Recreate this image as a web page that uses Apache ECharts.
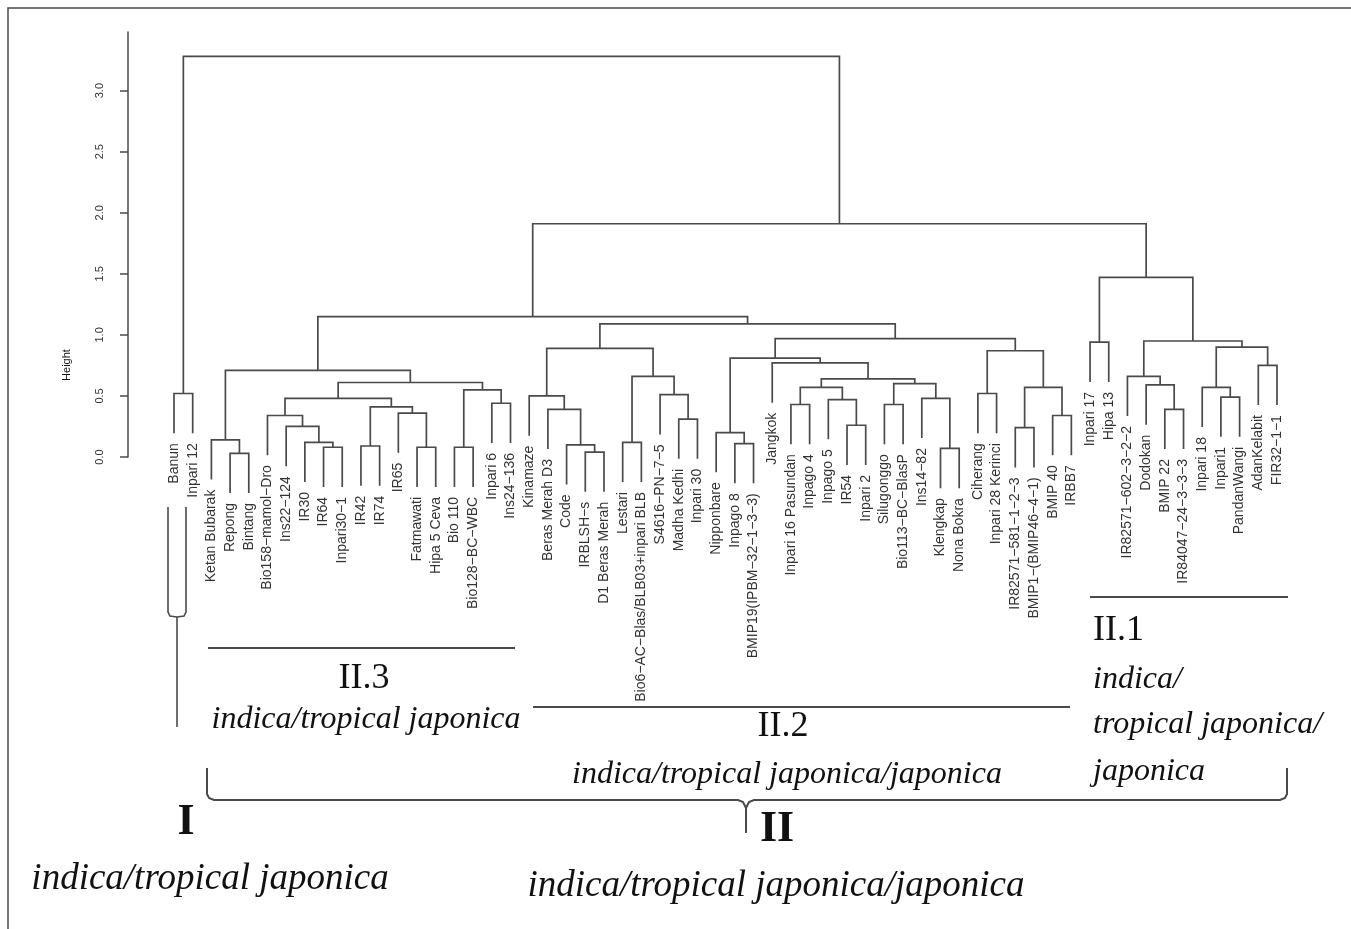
<!DOCTYPE html>
<html><head><meta charset="utf-8">
<script src="https://cdn.jsdelivr.net/npm/echarts@6/dist/echarts.min.js"></script>
<style>html,body{margin:0;padding:0;background:#fff}#c{width:1351px;height:929px}</style>
</head><body><div id="c"></div>
<script>
// Leaf labels in dendrogram order
const leaves = [
  'Banun','Inpari 12','Ketan Bubarak','Repong','Bintang','Bio158\u2212mamol\u2212Dro','Ins22\u2212124','IR30','IR64','Inpari30\u22121',
  'IR42','IR74','IR65','Fatmawati','Hipa 5 Ceva','Bio 110','Bio128\u2212BC\u2212WBC','Inpari 6','Ins24\u2212136','Kinamaze',
  'Beras Merah D3','Code','IRBLSH\u2212s','D1 Beras Merah','Lestari','Bio6\u2212AC\u2212Blas/BLB03+inpari BLB','S4616\u2212PN\u22127\u22125','Madha Kedhi','Inpari 30','Nipponbare',
  'Inpago 8','BMIP19(IPBM\u221232\u22121\u22123\u22123)','Jangkok','Inpari 16 Pasundan','Inpago 4','Inpago 5','IR54','Inpari 2','Silugonggo','Bio113\u2212BC\u2212BlasP',
  'Ins14\u221282','Klengkap','Nona Bokra','Ciherang','Inpari 28 Kerinci','IR82571\u2212581\u22121\u22122\u22123','BMIP1\u2212(BMIP46\u22124\u22121)','BMIP 40','IRBB7','Inpari 17',
  'Hipa 13','IR82571\u2212602\u22123\u22122\u22122','Dodokan','BMIP 22','IR84047\u221224\u22123\u22123\u22123','Inpari 18','Inpari1','PandanWangi','AdanKelabit','FIR32\u22121\u22121'
];
// hclust-style merge pairs: negative = leaf number, positive = earlier merge number
const merges = [
  [-1,-2],[-4,-5],[-3,2],[-9,-10],[-8,4],[-7,5],[-6,6],[-11,-12],[-14,-15],[-13,9],
  [8,10],[7,11],[-16,-17],[-18,-19],[13,14],[12,15],[3,16],[-23,-24],[-22,18],[-21,19],
  [-20,20],[-25,-26],[-28,-29],[-27,23],[22,24],[21,25],[-31,-32],[-30,27],[-34,-35],[-37,-38],
  [-36,30],[29,31],[-39,-40],[-42,-43],[-41,34],[33,35],[32,36],[-33,37],[28,38],[-44,-45],
  [-46,-47],[-48,-49],[41,42],[40,43],[39,44],[26,45],[17,46],[-50,-51],[-54,-55],[-53,49],
  [-52,50],[-57,-58],[-56,52],[-59,-60],[53,54],[51,55],[48,56],[47,57],[1,58]
];
// merge heights
const heights = [
  0.52,0.03,0.14,0.08,0.12,0.25,0.34,0.09,0.08,0.36,
  0.41,0.48,0.08,0.44,0.55,0.61,0.71,0.04,0.10,0.39,
  0.50,0.12,0.31,0.51,0.66,0.89,0.11,0.20,0.43,0.26,
  0.47,0.57,0.43,0.07,0.48,0.60,0.64,0.77,0.81,0.52,
  0.24,0.34,0.57,0.87,0.97,1.09,1.15,0.94,0.39,0.59,
  0.66,0.49,0.57,0.75,0.90,0.95,1.47,1.91,3.28
];
const yTicks = [0, 0.5, 1, 1.5, 2, 2.5, 3];
const yTickLabels = ['0.0','0.5','1.0','1.5','2.0','2.5','3.0'];

const hangFrac = 0.1;
const hang = hangFrac * (Math.max(...heights) - Math.min(...heights));
const n = leaves.length;
const nodeX = [];
const leafEnd = new Array(n);
const segData = [];
function cx(c){ return c < 0 ? (-c - 1) : nodeX[c - 1]; }
function cy(c, h){ return c < 0 ? h - hang : heights[c - 1]; }
merges.forEach((m, k) => {
  const h = heights[k];
  const xl = cx(m[0]), xr = cx(m[1]);
  nodeX[k] = (xl + xr) / 2;
  const yl = cy(m[0], h), yr = cy(m[1], h);
  if (m[0] < 0) leafEnd[-m[0] - 1] = yl;
  if (m[1] < 0) leafEnd[-m[1] - 1] = yr;
  segData.push([xl, yl, xr, yr, h]);
});
const labelData = leaves.map((name, i) => [i, leafEnd[i]]);

const LINE = '#4a4a4a';
const SERIF = '"Liberation Serif", "DejaVu Serif", serif';
const SANS = '"Liberation Sans", Arial, sans-serif';

function txt(text, x, y, font, align, rot){
  return {type:'text', x:x, y:y, rotation: rot || 0, silent:true,
    style:{text:text, font:font, fill:'#111', align:align||'center', verticalAlign:'middle',
      textAlign:align||'center', textVerticalAlign:'middle'}};
}
function line(points, w){
  return {type:'polyline', silent:true, shape:{points:points}, style:{stroke:LINE, lineWidth:w||2, fill:null}};
}

const chart = echarts.init(document.getElementById('c'), null, {renderer:'canvas'});
chart.setOption({
  animation:false,
  backgroundColor:'#fff',
  grid:{left:174, right:74, top:32, bottom:472, containLabel:false},
  xAxis:{type:'value', min:0, max:n-1, show:false},
  yAxis:{type:'value', min:0, max:3.48, offset:46,
    axisLine:{show:true, onZero:false, lineStyle:{color:LINE, width:1.5}},
    axisTick:{show:true, length:8, customValues:yTicks, lineStyle:{color:LINE, width:1.5}},
    axisLabel:{show:true, customValues:yTicks, rotate:90, margin:23, fontSize:11, color:'#333', fontFamily:SANS,
      formatter:(v)=>{ const i = yTicks.indexOf(v); return i >= 0 ? yTickLabels[i] : ''; }},
    splitLine:{show:false}
  },
  series:[
    {type:'custom', clip:false, silent:true, data:segData,
      renderItem:(params, api)=>{
        const p1 = api.coord([api.value(0), api.value(1)]);
        const p2 = api.coord([api.value(0), api.value(4)]);
        const p3 = api.coord([api.value(2), api.value(4)]);
        const p4 = api.coord([api.value(2), api.value(3)]);
        return {type:'polyline', shape:{points:[p1,p2,p3,p4]}, style:{stroke:LINE, lineWidth:1.7, fill:null}};
      }},
    {type:'custom', clip:false, silent:true, data:labelData,
      renderItem:(params, api)=>{
        const p = api.coord([api.value(0), api.value(1)]);
        return {type:'text', x:p[0], y:p[1] + 10, rotation:Math.PI/2,
          style:{text:leaves[params.dataIndex], font:'14px ' + SANS, fill:'#333', align:'right', verticalAlign:'middle'}};
      }}
  ],
  graphic:{elements:[
    line([[8,929],[8,8],[1351,8]], 1.5),
    txt('Height', 67, 365, '11px ' + SANS, 'center', Math.PI/2),
    line([[168,507],[168,612],[170,616],[177,617],[184,616],[186,612],[186,507]], 1.6),
    line([[177,617],[177,727]], 1.6),
    line([[208,648],[515,648]], 2),
    line([[533,707],[1070,707]], 2),
    line([[1090,597],[1288,597]], 2),
    line([[207,768],[207,794],[209,798],[214,800],[738,800],[743,802],[746,808],[746,833]], 2),
    line([[746,808],[749,802],[754,800],[1280,800],[1285,798],[1287,794],[1287,768]], 2),
    txt('II.3', 364, 679, '36px ' + SERIF),
    txt('indica/tropical japonica', 366, 720, 'italic 32px ' + SERIF),
    txt('II.2', 783, 727, '36px ' + SERIF),
    txt('indica/tropical japonica/japonica', 787, 775, 'italic 32px ' + SERIF),
    txt('II.1', 1093, 631, '36px ' + SERIF, 'left'),
    txt('indica/', 1093, 680, 'italic 32px ' + SERIF, 'left'),
    txt('tropical japonica/', 1093, 725, 'italic 32px ' + SERIF, 'left'),
    txt('japonica', 1093, 772, 'italic 32px ' + SERIF, 'left'),
    txt('I', 186, 823, 'bold 44px ' + SERIF),
    txt('II', 777, 830, 'bold 44px ' + SERIF),
    txt('indica/tropical japonica', 210, 879, 'italic 37px ' + SERIF),
    txt('indica/tropical japonica/japonica', 776, 886, 'italic 37px ' + SERIF)
  ]}
});
</script></body></html>
